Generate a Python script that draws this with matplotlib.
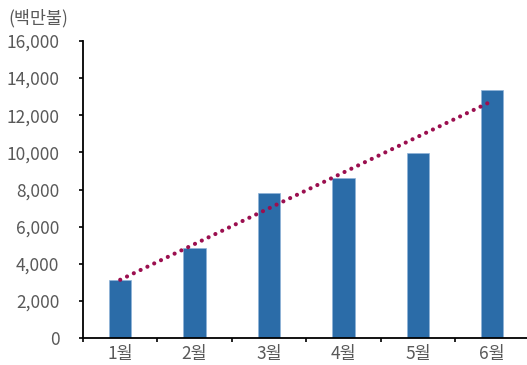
import numpy as np
from matplotlib import pyplot as plt
from matplotlib.ticker import FuncFormatter

plt.rcParams['font.family'] = ['Noto Sans CJK KR', 'DejaVu Sans']
plt.rcParams['font.weight'] = 'light'

# monthly values (백만불)
months = ['1월', '2월', '3월', '4월', '5월', '6월']
values = [3100, 4850, 7820, 8620, 9970, 13350]

barColor = '#2B6CA8'
trendColor = '#9B0F4F'
textColor = '#595959'

x = np.arange(len(months))

fig = plt.figure(figsize=(5.27, 3.65), dpi=100)
ax = fig.add_axes([83 / 527, 27 / 365, 446.4 / 527, 297 / 365])

ax.bar(x, values, width=0.3, color=barColor, edgecolor='#8FB3D8', linewidth=0.5, zorder=2)

# linear trend line through the bars
slope, icpt = np.polyfit(x, values, 1)
ax.plot(x, slope * x + icpt, color=trendColor, linewidth=3,
        linestyle=(0, (0.01, 1.8)), dash_capstyle='round', zorder=3)

ax.set_xlim(-0.5, 5.5)
ax.set_ylim(0, 16000)
ax.set_yticks(np.arange(0, 16001, 2000))
ax.yaxis.set_major_formatter(FuncFormatter(lambda v, p: f'{int(v):,}'))
ax.set_xticks(np.arange(-0.5, 5.5, 1), minor=False)
ax.set_xticklabels([])
ax.set_xticks(x, minor=True)
ax.set_xticklabels(months, minor=True)

ax.spines['top'].set_visible(False)
ax.spines['right'].set_visible(False)
ax.spines['left'].set_linewidth(1.3)
ax.spines['bottom'].set_linewidth(1.3)

ax.tick_params(axis='y', direction='out', length=3, width=1.2, labelsize=12.5,
               labelcolor=textColor, pad=14)
ax.tick_params(axis='x', which='major', direction='out', length=3, width=1.2)
ax.tick_params(axis='x', which='minor', length=0, labelsize=12.5,
               labelcolor=textColor, pad=5)

fig.text(8 / 527, 1 - 18 / 365, '(백만불)', fontsize=12.5, color=textColor,
         ha='left', va='center')

fig.savefig('out.png', dpi=100)
